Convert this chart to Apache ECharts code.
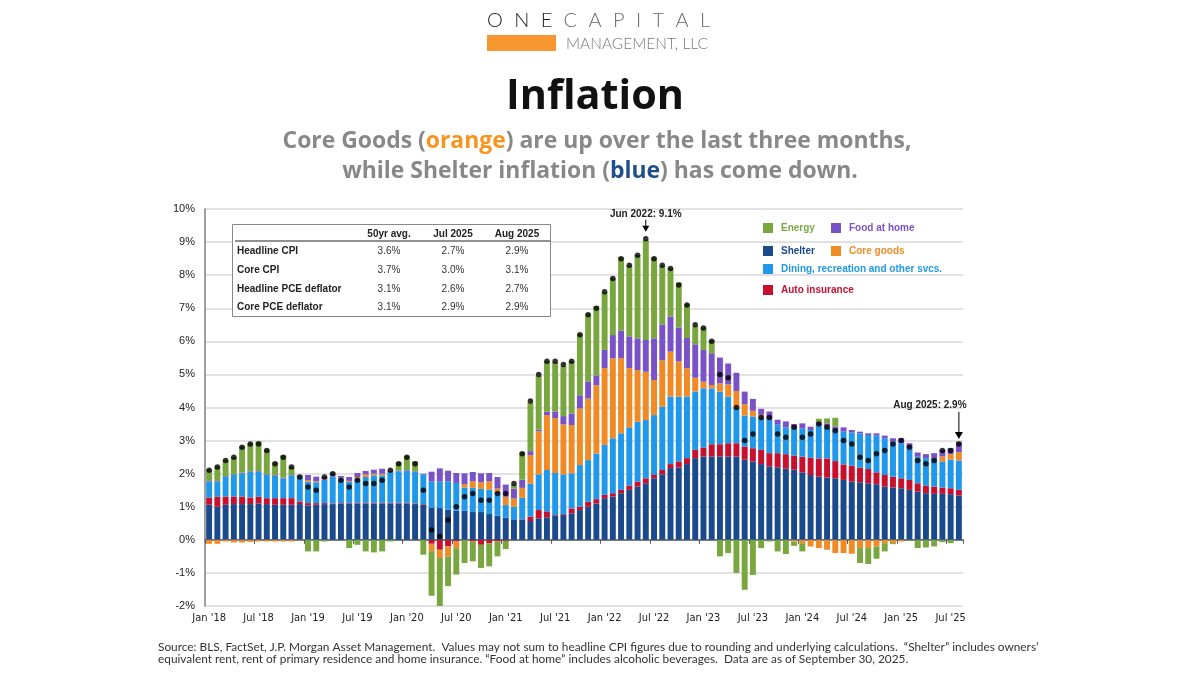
<!DOCTYPE html>
<html><head><meta charset="utf-8">
<script src="https://cdn.jsdelivr.net/npm/echarts@6.0.0/dist/echarts.min.js"></script>
<style>html,body{margin:0;padding:0;background:#fff}#c{width:1200px;height:675px}</style>
</head><body><div id="c"></div>
<script>
// ---------- DATA ----------
const monthNames = ['Jan','Feb','Mar','Apr','May','Jun','Jul','Aug','Sep','Oct','Nov','Dec'];
const categories = [];
for (let y = 18; y <= 25; y++) {
  for (let m = 0; m < 12; m++) {
    if (y === 25 && m > 7) break;
    categories.push(monthNames[m] + " '" + y);
  }
}
// contributions to y/y CPI (percentage points)
const shelter = [1.06,1.00,1.06,1.08,1.08,1.08,1.10,1.08,1.06,1.06,1.06,1.08,
1.04,1.06,1.08,1.08,1.09,1.10,1.10,1.10,1.10,1.10,1.10,1.10,
1.10,1.08,1.06,0.98,0.96,0.91,0.88,0.88,0.84,0.84,0.78,0.73,
0.67,0.60,0.60,0.57,0.65,0.68,0.73,0.76,0.80,0.90,1.00,1.10,
1.26,1.31,1.41,1.51,1.61,1.71,1.86,1.98,2.17,2.19,2.29,2.47,
2.52,2.52,2.52,2.52,2.52,2.42,2.37,2.29,2.22,2.19,2.15,2.12,
2.04,1.96,1.91,1.88,1.86,1.81,1.76,1.74,1.71,1.68,1.61,1.58,
1.56,1.51,1.46,1.41,1.39,1.39,1.38,1.34];
const autoIns = [0.22,0.30,0.25,0.23,0.23,0.20,0.20,0.18,0.20,0.20,0.20,0.08,
0.07,0.05,0.03,0.02,0.02,0.02,0.02,0.02,0.02,0.02,0.02,0.02,
0.02,0.02,0.02,-0.12,-0.30,-0.20,-0.05,0.00,-0.05,-0.15,-0.10,-0.05,
-0.03,0.00,0.02,0.13,0.25,0.18,0.02,0.02,0.15,0.10,0.15,0.13,
0.10,0.10,0.10,0.13,0.15,0.15,0.10,0.13,0.12,0.18,0.18,0.25,
0.27,0.37,0.37,0.40,0.40,0.40,0.40,0.43,0.40,0.43,0.44,0.43,
0.47,0.52,0.55,0.58,0.52,0.47,0.48,0.44,0.43,0.36,0.35,0.33,
0.30,0.30,0.25,0.23,0.22,0.19,0.18,0.17];
const dining = [0.48,0.45,0.60,0.65,0.70,0.77,0.76,0.70,0.68,0.60,0.68,0.76,
0.65,0.63,0.70,0.82,0.75,0.63,0.73,0.78,0.83,0.83,0.93,0.95,
0.97,0.95,0.90,0.78,0.80,0.86,0.84,0.70,0.73,0.70,0.74,0.72,
0.38,0.40,0.65,1.00,1.08,1.25,1.27,1.20,1.06,1.26,1.26,1.38,
1.51,1.66,1.71,1.76,1.81,1.76,1.81,1.91,2.04,1.96,1.86,1.76,
1.79,1.69,1.59,1.41,1.08,0.94,0.96,0.98,1.01,0.86,0.81,0.83,
0.86,0.84,1.00,0.96,0.94,0.99,1.01,1.04,1.03,1.11,1.11,1.06,
1.06,0.96,0.80,0.83,0.86,0.79,0.86,0.89];
const coreGoods = [-0.12,-0.12,-0.05,-0.08,-0.08,-0.06,-0.05,-0.05,-0.05,-0.05,-0.05,-0.02,
0.05,0.03,0.02,0.02,0.02,0.03,0.05,0.08,0.05,0.05,0.02,0.00,
0.00,0.00,0.00,-0.22,-0.25,-0.30,-0.20,0.10,0.20,0.20,0.25,0.10,
0.25,0.25,0.30,0.86,1.30,1.66,1.66,1.51,1.46,1.71,1.86,2.06,
2.32,2.42,2.27,1.79,1.56,1.46,1.06,1.41,1.36,1.06,0.86,0.42,
0.20,0.10,0.25,0.37,0.50,0.34,0.17,0.08,0.00,0.00,0.00,-0.05,
-0.10,-0.20,-0.25,-0.30,-0.40,-0.40,-0.42,-0.25,-0.25,-0.20,-0.10,-0.10,
-0.05,0.00,0.00,0.00,0.00,0.15,0.17,0.25];
const foodHome = [0.02,0.02,0.02,0.02,0.02,0.02,0.02,0.02,0.02,0.02,0.02,0.02,
0.15,0.14,0.08,0.05,0.05,0.12,0.12,0.10,0.12,0.15,0.02,0.02,
0.02,0.02,0.02,0.30,0.40,0.32,0.30,0.33,0.28,0.27,0.25,0.35,
0.37,0.30,0.25,0.12,0.05,0.10,0.20,0.25,0.35,0.40,0.52,0.30,
0.55,0.70,0.83,0.96,0.96,0.96,1.26,1.08,1.06,1.03,0.91,1.01,
0.96,0.96,0.78,0.63,0.55,0.38,0.36,0.18,0.25,0.15,0.18,0.12,
0.15,0.10,0.10,0.10,0.10,0.13,0.07,0.05,0.05,0.07,0.08,0.10,
0.15,0.15,0.13,0.12,0.15,0.20,0.18,0.30];
const energy = [0.35,0.45,0.48,0.52,0.80,0.85,0.90,0.75,0.38,0.67,0.25,0.02,
-0.35,-0.35,-0.05,0.05,0.00,-0.25,-0.15,-0.35,-0.38,-0.35,-0.05,0.25,
0.43,0.30,-0.45,-1.35,-1.46,-0.90,-0.80,-0.70,-0.60,-0.70,-0.70,-0.45,
-0.25,0.12,0.83,1.47,1.62,1.53,1.49,1.51,1.58,1.86,2.05,2.09,
1.74,1.71,2.22,2.14,2.52,3.02,2.45,1.77,1.46,1.36,1.03,0.55,
0.68,0.40,-0.50,-0.40,-1.00,-1.51,-1.06,-0.25,-0.05,-0.35,-0.43,-0.13,
-0.25,0.00,0.10,0.15,0.27,0.00,0.00,-0.45,-0.48,-0.37,-0.25,-0.03,
0.00,-0.02,-0.25,-0.23,-0.20,-0.07,-0.10,0.02];
const headline = [2.1,2.2,2.4,2.5,2.8,2.9,2.9,2.7,2.3,2.5,2.2,1.9,
1.6,1.5,1.9,2.0,1.8,1.6,1.8,1.7,1.7,1.8,2.1,2.3,
2.5,2.3,1.5,0.3,0.1,0.6,1.0,1.3,1.4,1.2,1.2,1.4,
1.4,1.7,2.6,4.2,5.0,5.4,5.4,5.3,5.4,6.2,6.8,7.0,
7.5,7.9,8.5,8.3,8.6,9.1,8.5,8.3,8.2,7.7,7.1,6.5,
6.4,6.0,5.0,4.9,4.0,3.0,3.2,3.7,3.7,3.2,3.1,3.4,
3.1,3.2,3.5,3.4,3.3,3.0,2.9,2.5,2.4,2.6,2.7,2.9,
3.0,2.8,2.4,2.3,2.4,2.7,2.7,2.9];
// table
const tableHeader = ['50yr avg.', 'Jul 2025', 'Aug 2025'];
const tableRows = ['Headline CPI', 'Core CPI', 'Headline PCE deflator', 'Core PCE deflator'];
const tableValues = [['3.6%','2.7%','2.9%'],['3.7%','3.0%','3.1%'],['3.1%','2.6%','2.7%'],['3.1%','2.9%','2.9%']];
const annotations = [{idx: 53, label: 'Jun 2022'}, {idx: 91, label: 'Aug 2025'}];

// ---------- STYLE ----------
const C = {shelter:'#1a4a8c', auto:'#c8102e', dining:'#1f97ea', core:'#f08a24', food:'#7a52c7', energy:'#7aa640'};
const AX = "'Liberation Sans', Arial, sans-serif";
const NARROW = "'Liberation Sans Narrow', 'DejaVu Sans Condensed', 'Liberation Sans', sans-serif";
const ctx = document.createElement('canvas').getContext('2d');
function measure(text, font) { ctx.font = font; return ctx.measureText(text).width; }
function fit(text, weight, family, target, base) {
  return base * target / measure(text, weight + ' ' + base + 'px ' + family);
}

const chart = echarts.init(document.getElementById('c'));

function bar(name, data, color, extra) {
  return Object.assign({
    name, type: 'bar', stack: 'cpi', data, xAxisIndex: 0,
    itemStyle: {color}, emphasis: {disabled: true}, barCategoryGap: '28%'
  }, extra || {});
}
function leg(name, color, left, top) {
  return {
    data: [{name, textStyle: {color}}], left, top, padding: 0,
    itemWidth: 10, itemHeight: 10, icon: 'rect', selectedMode: false,
    textStyle: {fontSize: 10, fontWeight: 'bold', fontFamily: AX, padding: [0, 0, 0, 3]}
  };
}

chart.setOption({
  animation: false,
  backgroundColor: '#fff',
  grid: {left: 205, right: 237, top: 209, bottom: 69},
  xAxis: [{
    type: 'category', data: categories,
    axisLine: {show: false, onZero: false}, axisTick: {show: false},
    axisLabel: {interval: 5, fontSize: 11, color: '#222', fontFamily: NARROW, margin: 7},
    splitLine: {show: false}
  }, {
    type: 'category', data: categories, position: 'bottom',
    axisLine: {show: true, onZero: true, lineStyle: {color: '#595959', width: 1.5}},
    axisTick: {show: true, interval: 5, length: 4, lineStyle: {color: '#595959'}},
    axisLabel: {show: false}, splitLine: {show: false}
  }],
  yAxis: {
    type: 'value', min: -2, max: 10, interval: 1,
    axisLabel: {formatter: '{value}%', fontSize: 11, color: '#222', fontFamily: AX, margin: 10},
    axisLine: {show: true, lineStyle: {color: '#7f7f7f', width: 1.5}},
    axisTick: {show: false},
    splitLine: {lineStyle: {color: '#d9d9d9', width: 1.5}}
  },
  legend: [
    leg('Energy', '#78a940', 763, 223),
    leg('Food at home', '#7a52c7', 831, 223),
    leg('Shelter', '#1a4a8c', 763, 246),
    leg('Core goods', '#f08a24', 831, 246),
    leg('Dining, recreation and other svcs.', '#1f97ea', 763, 264),
    leg('Auto insurance', '#c8102e', 763, 285)
  ],
  series: [
    bar('Shelter', shelter, C.shelter),
    bar('Auto insurance', autoIns, C.auto),
    bar('Dining, recreation and other svcs.', dining, C.dining),
    bar('Core goods', coreGoods, C.core),
    bar('Food at home', foodHome, C.food),
    bar('Energy', energy, C.energy),
    {name: 'Headline CPI', type: 'scatter', data: headline, xAxisIndex: 0, symbol: 'circle',
     symbolSize: 5.5, itemStyle: {color: '#000'}, z: 10, emphasis: {disabled: true}}
  ]
});

// ---------- GRAPHICS ----------
const g = [];
// logo: evenly tracked letters spanning 487..710
const logoFont = '300 20px Lato, "Open Sans", sans-serif';
const logoText = 'ONECAPITAL';
const widths = logoText.split('').map(ch => measure(ch, logoFont));
const track = (223 - widths.reduce((a, b) => a + b, 0)) / (logoText.length - 1);
let lx = 487;
logoText.split('').forEach((ch, i) => {
  g.push({type: 'text', x: lx, y: 21, style: {text: ch, fill: i < 3 ? '#1e1e1e' : '#6a6a6a',
    font: logoFont, textVerticalAlign: 'middle'}});
  lx += widths[i] + track;
});
g.push({type: 'rect', shape: {x: 487, y: 35, width: 69, height: 16}, style: {fill: '#f7972f'}});
const mg = 'MANAGEMENT, LLC';
g.push({type: 'text', x: 566, y: 44, style: {text: mg, fill: '#777',
  font: '300 ' + fit(mg, '300', 'Lato, sans-serif', 142, 15).toFixed(2) + 'px Lato, sans-serif', textVerticalAlign: 'middle'}});
// title
g.push({type: 'text', x: 595, y: 97, style: {text: 'Inflation', fill: '#111',
  font: 'bold ' + fit('Inflation', 'bold', '"Open Sans", sans-serif', 178, 42).toFixed(2) + 'px "Open Sans", sans-serif',
  textAlign: 'center', textVerticalAlign: 'middle'}});
const sub1 = 'Core Goods (orange) are up over the last three months,';
const sFam = '"Open Sans", sans-serif';
const sSize = fit(sub1, 'bold', sFam, 629, 22);
const rs = (col) => ({fill: col, fontSize: sSize, fontWeight: 'bold', fontFamily: sFam});
g.push({type: 'text', x: 597, y: 141, style: {text: '{g|Core Goods (}{o|orange}{g|) are up over the last three months,}',
  rich: {g: rs('#888'), o: rs('#f7941d')}, textAlign: 'center', textVerticalAlign: 'middle'}});
g.push({type: 'text', x: 600, y: 171, style: {text: '{g|while Shelter inflation (}{b|blue}{g|) has come down.}',
  rich: {g: rs('#888'), b: rs('#1f4e8c')}, textAlign: 'center', textVerticalAlign: 'middle'}});
// table
g.push({type: 'rect', shape: {x: 232.5, y: 224.5, width: 318, height: 92}, style: {fill: '#fff', stroke: '#888', lineWidth: 1}, z: 5});
g.push({type: 'line', shape: {x1: 235, y1: 241, x2: 550, y2: 241}, style: {stroke: '#222', lineWidth: 1}, z: 6});
const colX = [389, 453, 517];
tableHeader.forEach((h, i) => g.push({type: 'text', x: colX[i], y: 234, z: 6, style: {text: h, fill: '#222',
  font: 'bold 10px ' + AX, textAlign: 'center', textVerticalAlign: 'middle'}}));
const rowY = [251, 270, 289, 307];
tableRows.forEach((r, j) => {
  g.push({type: 'text', x: 237, y: rowY[j], z: 6, style: {text: r, fill: '#222', font: 'bold 10px ' + AX, textVerticalAlign: 'middle'}});
  tableValues[j].forEach((v, i) => g.push({type: 'text', x: colX[i], y: rowY[j], z: 6, style: {text: v, fill: '#333',
    font: '10px ' + AX, textAlign: 'center', textVerticalAlign: 'middle'}}));
});
// annotations
annotations.forEach((a, k) => {
  const p = chart.convertToPixel({gridIndex: 0}, [a.idx, headline[a.idx]]);
  const txt = a.label + ': ' + headline[a.idx].toFixed(1) + '%';
  if (k === 0) {
    g.push({type: 'text', x: p[0], y: p[1] - 25, style: {text: txt, fill: '#222', font: 'bold 10px ' + AX, textAlign: 'center', textVerticalAlign: 'middle'}});
    g.push({type: 'line', shape: {x1: p[0], y1: p[1] - 19, x2: p[0], y2: p[1] - 12}, style: {stroke: '#000', lineWidth: 1}});
    g.push({type: 'polygon', shape: {points: [[p[0] - 3.5, p[1] - 13], [p[0] + 3.5, p[1] - 13], [p[0], p[1] - 7]]}, style: {fill: '#000'}});
  } else {
    g.push({type: 'text', x: p[0] - 29, y: p[1] - 39, style: {text: txt, fill: '#222', font: 'bold 10px ' + AX, textAlign: 'center', textVerticalAlign: 'middle'}});
    g.push({type: 'line', shape: {x1: p[0], y1: p[1] - 32, x2: p[0], y2: p[1] - 11}, style: {stroke: '#000', lineWidth: 1}});
    g.push({type: 'polygon', shape: {points: [[p[0] - 4, p[1] - 12], [p[0] + 4, p[1] - 12], [p[0], p[1] - 5]]}, style: {fill: '#000'}});
  }
});
// footer
const f1 = 'Source: BLS, FactSet, J.P. Morgan Asset Management.  Values may not sum to headline CPI figures due to rounding and underlying calculations.  \u201CShelter\u201D includes owners\u2019';
const f2 = 'equivalent rent, rent of primary residence and home insurance. \u201CFood at home\u201D includes alcoholic beverages.  Data are as of September 30, 2025.';
const FF = 'Lato, "Open Sans", sans-serif';
const fSize = fit(f1, 'normal', FF, 881, 10);
[f1, f2].forEach((t, i) => g.push({type: 'text', x: 158, y: 647 + i * 12, style: {text: t, fill: '#333',
  font: fSize.toFixed(2) + 'px ' + FF, textVerticalAlign: 'middle'}}));

chart.setOption({graphic: {elements: g}});
</script></body></html>
